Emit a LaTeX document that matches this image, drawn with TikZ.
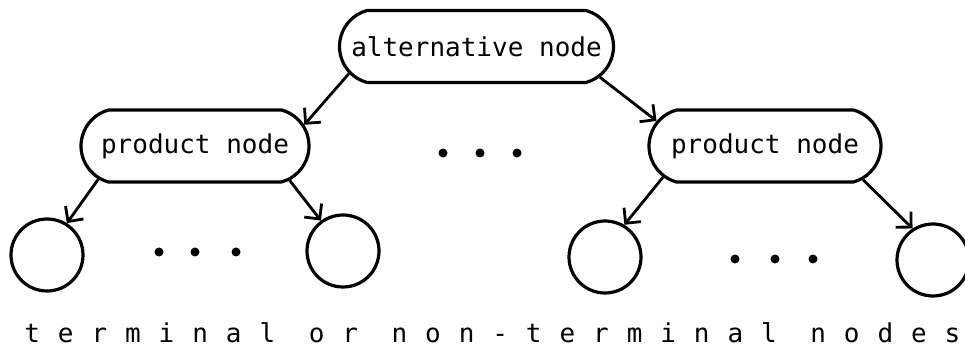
\documentclass[tikz,border=0pt]{standalone}
\usepackage{fontspec}
\setmonofont{DejaVu Sans Mono}
\usetikzlibrary{shapes.misc,arrows.meta}

\tikzset{
  treenode/.style={rounded rectangle, rounded rectangle arc length=150, draw,
    line width=1.6pt, minimum height=36pt, inner sep=2pt,
    font=\ttfamily\fontsize{13}{15}\selectfont},
  leaf/.style={circle, draw, line width=1.6pt, minimum size=36pt, inner sep=0pt},
  link/.style={line width=1.4pt, -{Straight Barb[length=5.5pt,width=11pt]}}
}

\begin{document}
\begin{tikzpicture}[x=0.5pt, y=-0.5pt]
  \useasboundingbox (0,0) rectangle (965,347);

  % top level and the two product nodes
  \node [treenode, minimum width=141pt] (alt) at (476.5,46.5) {alternative node};
  \node [treenode, minimum width=118pt] (prodL) at (195,146) {product node};
  \node [treenode, minimum width=120pt] (prodR) at (765,146) {product node};

  % leaves
  \node [leaf] (leafA) at (47,255) {};
  \node [leaf] (leafB) at (343,251) {};
  \node [leaf] (leafC) at (605,257) {};
  \node [leaf] (leafD) at (933,260) {};

  \draw [link] (alt.192.9) -- (prodL.11.2);
  \draw [link] (alt.346.2) -- (prodR.167.5);
  \draw [link] (prodL.199.4) -- (leafA.58.8);
  \draw [link] (prodL.340.9) -- (leafB.126.9);
  \draw [link] (prodR.197.5) -- (leafC.59.5);
  \draw [link] (prodR.341.7) -- (leafD.123.7);

  % ellipses between siblings
  \foreach \x/\y in {443/153, 480/153, 517/153,
                     159/252, 195/252, 236/252,
                     735/259, 775/259, 813/259}
    \fill (\x,\y) circle (4.5);

  \node [anchor=base west, inner sep=0pt,
    font=\ttfamily\fontsize{13}{15}\selectfont\addfontfeature{LetterSpace=69}]
    (caption) at (24,343) {terminal or non-terminal nodes};
\end{tikzpicture}
\end{document}
